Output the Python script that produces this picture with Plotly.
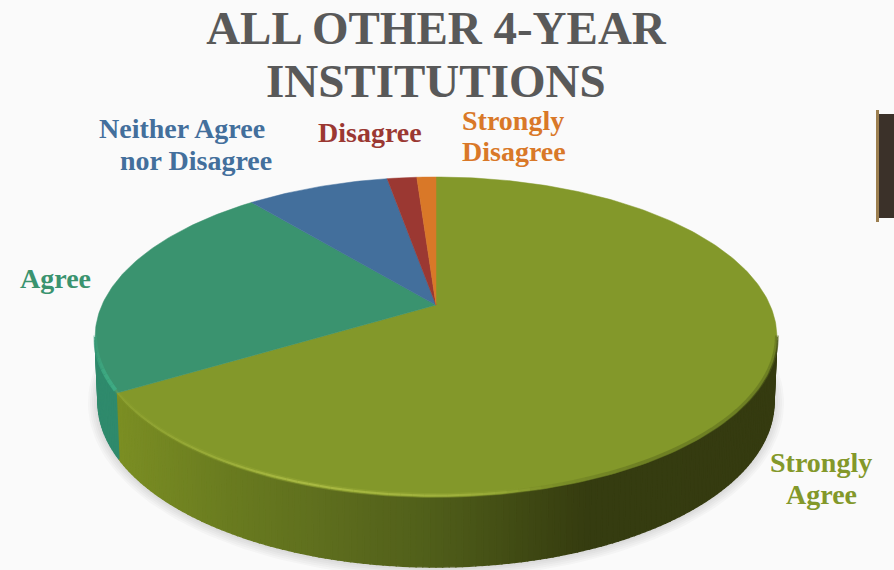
import numpy as np
import plotly.graph_objects as go

categories = ["Strongly Agree", "Agree", "Neither Agree nor Disagree", "Disagree", "Strongly Disagree"]
values = [66.4, 22.6, 8.2, 1.7, 1.1]
slice_colors = ["#83982A", "#3A936F", "#436F9C", "#9B3832", "#D97828"]
label_lines = [["Strongly", "Agree"], ["Agree"], ["Neither Agree", "nor Disagree"], ["Disagree"], ["Strongly", "Disagree"]]
label_x = [[821, 821], [55], [182, 196], [370], [513, 514]]
label_y = [[462, 494], [278], [128, 160], [132], [120, 151]]
title_lines = ["ALL OTHER 4-YEAR", "INSTITUTIONS"]

# Perspective geometry of the tilted disc (pixel space axes)
CX, APEX_Y, A_V, B_V = 436.0, 305.0, 153.6, 0.2
A_U = 334.0
RIM_CY, RIM_RX, RIM_RY = 337.0, 341.0, 160.0
BOT_CY, BOT_RX, BOT_RY = 402.0, 338.0, 165.0
FONT = "Liberation Serif"


def top_point(theta):
    u, v = np.sin(theta), np.cos(theta)
    w = 1 + B_V * v
    return CX + A_U * u / w, APEX_Y - A_V * v / w


def rim(psi):
    return CX + RIM_RX * np.sin(psi), RIM_CY - RIM_RY * np.cos(psi)


def bottom(psi):
    return CX + BOT_RX * np.sin(psi), BOT_CY - BOT_RY * np.cos(psi)


def hex_rgb(h):
    return np.array([int(h[i:i + 2], 16) for i in (1, 3, 5)], float)


def ramp(x, stops):
    xs = [s[0] for s in stops]
    rgb = [np.interp(x, xs, [hex_rgb(s[1])[i] for s in stops]) for i in range(3)]
    return "rgb(%d,%d,%d)" % tuple(rgb)


fig = go.Figure()

# Soft shadow under the disc
psi_all = np.linspace(0, 2 * np.pi, 200)
for grow in [10, 8, 6, 4, 2]:
    sx, sy = bottom(psi_all)
    sx = CX + (sx - CX) * (1 + grow / BOT_RX)
    sy = BOT_CY + 1 + (sy - BOT_CY) * (1 + grow / BOT_RY)
    fig.add_trace(go.Scatter(x=sx, y=sy, mode="lines", fill="toself", line=dict(width=0),
                             fillcolor="rgba(60,60,60,0.03)", hoverinfo="skip", showlegend=False))

# Where the Strongly Agree slice ends, in rim parameter
fractions = np.array(values) / sum(values)
cum = np.concatenate([[0], np.cumsum(fractions)])
ex, ey = top_point(2 * np.pi * cum[1])
psi_split = np.arctan2((ex - CX) / RIM_RX, -(ey - RIM_CY) / RIM_RY) % (2 * np.pi)

# Side wall drawn in narrow strips (right to left along the front)
side_stops = [(118, "#7C8F24"), (230, "#6A7C20"), (330, "#5E6E1E"), (436, "#505E1A"),
              (520, "#414B14"), (585, "#363D10"), (780, "#353B10")]
agree_side = "#2F8A6C"
edges = np.linspace(np.pi / 2, 3 * np.pi / 2, 161)
for p0, p1 in zip(edges[:-1], edges[1:]):
    mid = (p0 + p1) / 2
    rx0, ry0 = rim(p0)
    rx1, ry1 = rim(p1)
    bx0, by0 = bottom(p0)
    bx1, by1 = bottom(p1)
    col = ramp(bx0, side_stops) if mid < psi_split else agree_side
    fig.add_trace(go.Scatter(x=[rx0, rx1, bx1, bx0, rx0], y=[ry0, ry1, by1, by0, ry0], mode="lines",
                             fill="toself", fillcolor=col, line=dict(color=col, width=1.4),
                             hoverinfo="skip", showlegend=False))

# Top face: one polygon per category, from the values
for i, name in enumerate(categories):
    th = np.linspace(2 * np.pi * cum[i], 2 * np.pi * cum[i + 1], max(4, int(400 * fractions[i])))
    px, py = top_point(th)
    fig.add_trace(go.Scatter(x=np.r_[CX, px, CX], y=np.r_[APEX_Y, py, APEX_Y], mode="lines",
                             fill="toself", fillcolor=slice_colors[i], line=dict(color=slice_colors[i], width=0.5),
                             name=name, hovertemplate=name + ": %{text}%<extra></extra>",
                             text=[values[i]] * (len(th) + 2), showlegend=False))

# Rim highlight along the front and soft dark edge on the right
rim_edges = np.linspace(np.pi / 2, 3 * np.pi / 2, 91)
for p0, p1 in zip(rim_edges[:-1], rim_edges[1:]):
    mid = (p0 + p1) / 2
    xs = np.linspace(p0, p1, 3)
    rx, ry = rim(xs)
    xm = CX + RIM_RX * np.sin(mid)
    if mid >= psi_split:
        layers = [("#3FAE86", 4, 0.9 * float(np.interp(xm, [95, 105, 118], [0.3, 0.9, 1.0])))]
    else:
        hi = float(np.interp(xm, [118, 220, 300, 460, 560], [0.15, 0.45, 0.8, 0.55, 0.0]))
        lo = float(np.interp(xm, [500, 640, 780], [0.0, 0.5, 0.5]))
        layers = [("#A5B53F", 5, hi * 0.4), ("#B0C048", 2, hi), ("#5A691E", 4, lo)]
    for col, wid, alpha in layers:
        if alpha > 0.01:
            fig.add_trace(go.Scatter(x=rx, y=ry - 1.5, mode="lines", line=dict(color=col, width=wid), opacity=alpha,
                                     hoverinfo="skip", showlegend=False))

for i in range(len(categories)):
    for line, lx, ly in zip(label_lines[i], label_x[i], label_y[i]):
        fig.add_annotation(x=lx, y=ly, xref="x", yref="y", text="<b>%s</b>" % line, showarrow=False,
                           font=dict(family=FONT, size=28, color=slice_colors[i]), align="center")

fig.add_annotation(x=436, y=81, xref="x", yref="y", text="<b>%s</b>" % title_lines[1], showarrow=False,
                   height=44, font=dict(family=FONT, size=47, color="#595959"))

fig.update_layout(
    width=894, height=570, margin=dict(l=0, r=0, t=0, b=0), autosize=False,
    paper_bgcolor="#FAFAFA", plot_bgcolor="#FAFAFA", showlegend=False,
    title=dict(text="<b>%s</b>" % title_lines[0], x=436 / 894, xanchor="center", y=1 - 28 / 570, yanchor="middle",
               font=dict(family=FONT, size=47, color="#595959")),
    xaxis=dict(range=[0, 894], visible=False, fixedrange=True),
    yaxis=dict(range=[570, 0], visible=False, fixedrange=True),
    shapes=[
        dict(type="rect", xref="x", yref="y", x0=878, x1=894, y0=114, y1=218, fillcolor="#3B3129", line=dict(width=0)),
        dict(type="rect", xref="x", yref="y", x0=876, x1=879, y0=110, y1=222, fillcolor="#9C7F50", line=dict(width=0)),
    ],
)

fig.write_html("out.html", config={"displayModeBar": False},
               post_script="document.body.style.margin='0';document.body.style.background='#FAFAFA';")
